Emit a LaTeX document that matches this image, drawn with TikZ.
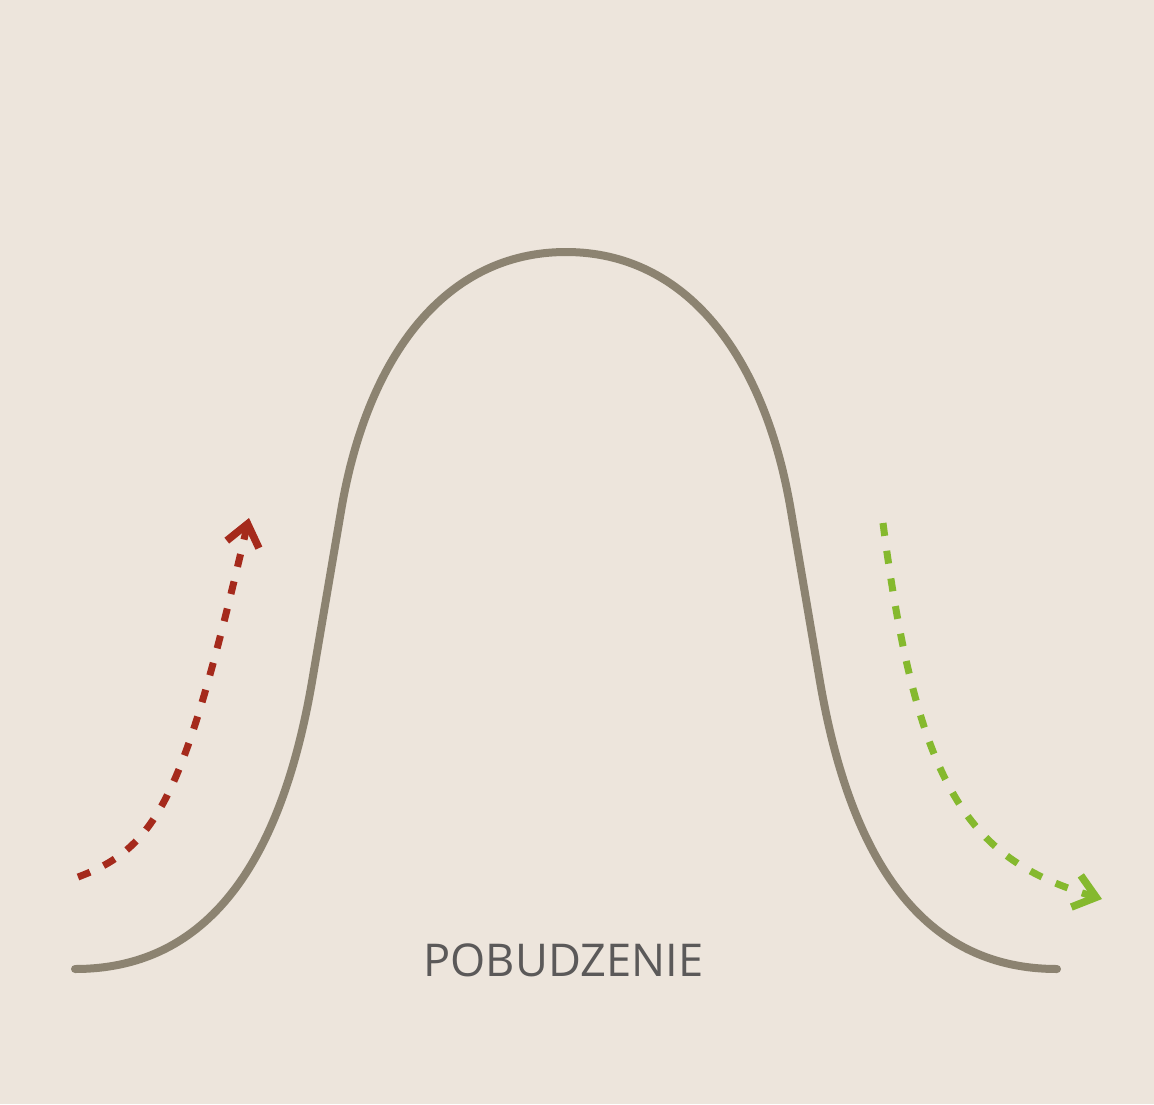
\documentclass[tikz,border=0pt]{standalone}
\usepackage{fontspec}
\setmainfont{Open Sans}
\usetikzlibrary{arrows.meta}
\definecolor{bgc}{HTML}{EDE5DC}
\definecolor{curvec}{HTML}{8C8371}
\definecolor{redc}{HTML}{A52A1C}
\definecolor{greenc}{HTML}{85B92E}
\definecolor{textc}{HTML}{5B5959}
\tikzset{
  bellcurve/.style={draw=curvec, line width=8pt, line cap=round, line join=round},
  flowarrow/.style={line width=7pt, dash pattern=on 13pt off 15pt,
    -{Straight Barb[length=21pt,width=33pt,line width=7.5pt]}},
  labeltext/.style={text=textc, font=\fontsize{45.2}{50}\selectfont, inner sep=0pt, anchor=base}
}
\begin{document}
\begin{tikzpicture}[x=1pt,y=-1pt]
\useasboundingbox (0,0) rectangle (1154,1104);
\fill[bgc] (0,0) rectangle (1154,1104);
% bell curve
\coordinate (cA) at (75,969);
\coordinate (cI) at (312.3,680);
\coordinate (cJ) at (341.2,510);
\coordinate (cT) at (566,252);
\coordinate (cJr) at (790.8,510);
\coordinate (cIr) at (819.7,680);
\coordinate (cAr) at (1057,969);
\draw[bellcurve] (cA) .. controls (200,969) and (279.1,875) .. (cI)
  -- (cJ) .. controls (367.5,355) and (446,252) .. (cT)
  .. controls (686,252) and (764.5,355) .. (cJr)
  -- (cIr) .. controls (852.9,875) and (932,969) .. (cAr);
% arrows
\coordinate (r0) at (78,877);
\coordinate (r1) at (249,518);
\draw[flowarrow, draw=redc] (r0) .. controls (158,847) and (184,797) .. (r1);
\coordinate (g0) at (883,523);
\coordinate (g1) at (1102,899);
\draw[flowarrow, draw=greenc] (g0) .. controls (918,795) and (972,860) .. (g1);
\node[labeltext] (label) at (563.5,976) {POBUDZENIE};
\end{tikzpicture}
\end{document}
